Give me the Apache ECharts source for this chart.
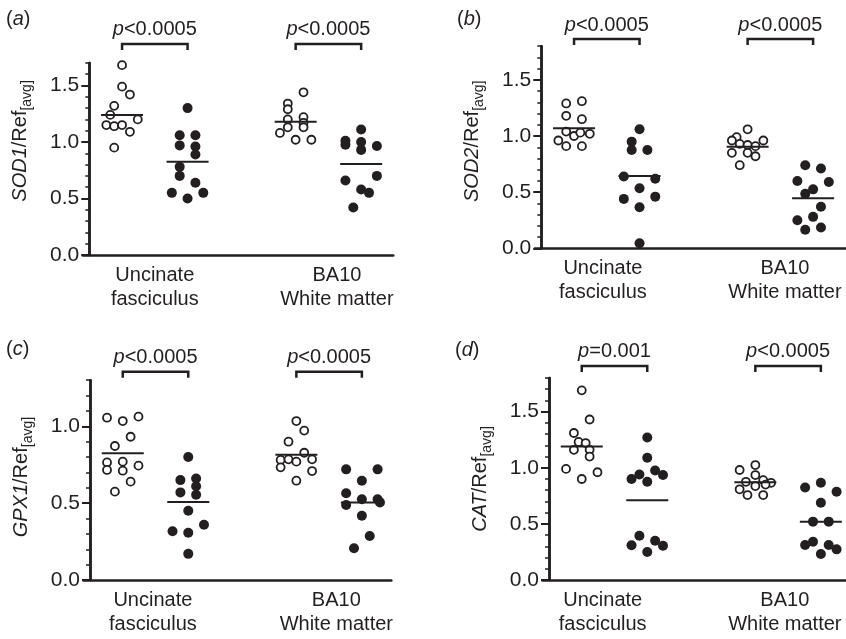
<!DOCTYPE html>
<html>
<head>
<meta charset="utf-8">
<script src="https://cdn.jsdelivr.net/npm/echarts@6/dist/echarts.min.js"></script>
<style>
  html, body { margin: 0; padding: 0; background: #fff; }
  #chart { width: 846px; height: 639px; }
</style>
</head>
<body>
<div id="chart"></div>
<script>
// x positions of the four groups: UF control, UF patient, BA10 control, BA10 patient
var groupX = [0.5, 1.5, 3.15, 4.15];
var jitStep = 0.12;   // horizontal spread of one dot (x units)
var catNames = ['Uncinate\nfasciculus', 'BA10\nWhite matter'];

// (a) SOD1
var sod1UfCtl = [1.68, 1.49, 1.42, 1.32, 1.24, 1.20, 1.15, 1.14, 1.15, 1.09, 0.95];
var sod1UfCtlJit = [0, 0, 1, -1, -1.5, 2, -2, -1, 0, 1, -1];
var sod1UfPat = [1.30, 1.06, 1.06, 0.97, 0.96, 0.89, 0.78, 0.70, 0.64, 0.55, 0.50, 0.55];
var sod1UfPatJit = [0, -1, 1, -1, 1, 1, -1, -1, 1, -2, 0, 2];
var sod1BaCtl = [1.44, 1.34, 1.29, 1.20, 1.22, 1.17, 1.13, 1.13, 1.08, 1.02, 1.02];
var sod1BaCtlJit = [1, -1, -1, -1, 1, 1, -1, 1, -2, 0, 2];
var sod1BaPat = [1.11, 1.01, 0.975, 1.00, 0.93, 0.965, 0.66, 0.70, 0.58, 0.55, 0.42];
var sod1BaPatJit = [0, -2, -2, 0, 0, 2, -2, 2, 0, 1, -1];
var sod1Means = [1.24, 0.825, 1.18, 0.805];
var sod1P = ['<0.0005', '<0.0005'];

// (b) SOD2
var sod2UfCtl = [1.29, 1.31, 1.18, 1.15, 0.96, 1.04, 1.00, 1.03, 1.02, 0.91, 0.91];
var sod2UfCtlJit = [-1, 1, -1, 1, -2, -1, 0, 0.8, 2, -1, 1];
var sod2UfPat = [1.06, 0.95, 0.875, 0.875, 0.64, 0.62, 0.535, 0.44, 0.46, 0.365, 0.045];
var sod2UfPatJit = [0, -1, -1, 1, -2, 2, 0, -2, 2, 0, 0];
var sod2BaCtl = [1.06, 0.99, 0.96, 0.96, 0.93, 0.92, 0.91, 0.85, 0.85, 0.82, 0.74];
var sod2BaCtlJit = [0, -1.4, -2, 2, -1, 0, 1, -2, 0, 1, -1];
var sod2BaPat = [0.74, 0.71, 0.60, 0.59, 0.525, 0.485, 0.37, 0.28, 0.25, 0.165, 0.185];
var sod2BaPatJit = [-1, 1, -2, 2, 0, -1, 1, 0, -2, -1, 1];
var sod2Means = [1.07, 0.645, 0.905, 0.445];
var sod2P = ['<0.0005', '<0.0005'];

// (c) GPX1
var gpx1UfCtl = [1.056, 1.034, 1.063, 0.932, 0.872, 0.765, 0.77, 0.744, 0.716, 0.711, 0.64, 0.575];
var gpx1UfCtlJit = [-2, 0, 2, 1, -1, -2, 0, 2, -2, 0, 1, -1];
var gpx1UfPat = [0.80, 0.65, 0.66, 0.61, 0.57, 0.555, 0.45, 0.36, 0.317, 0.307, 0.17];
var gpx1UfPatJit = [0, -1, 1, 1, -1, 1, 0, 2, -2, 0, 0];
var gpx1BaCtl = [1.034, 0.972, 0.90, 0.828, 0.781, 0.785, 0.77, 0.785, 0.733, 0.709, 0.646];
var gpx1BaCtlJit = [0, 1, -1, 1, -2, -1, 0, 2, -2, 2, 0];
var gpx1BaPat = [0.72, 0.72, 0.646, 0.564, 0.488, 0.525, 0.525, 0.505, 0.418, 0.286, 0.206];
var gpx1BaPatJit = [-2, 2, 0, -2, -2, 0, 2, 2.3, 0, 1, -1];
var gpx1Means = [0.824, 0.507, 0.815, 0.505];
var gpx1P = ['<0.0005', '<0.0005'];

// (d) CAT
var catUfCtl = [1.69, 1.43, 1.31, 1.23, 1.16, 1.22, 1.16, 1.10, 0.99, 0.96, 0.90];
var catUfCtlJit = [0, 1, -1, -0.4, -1, 0.5, 1, 1, -2, 2, 0];
var catUfPat = [1.27, 1.09, 0.90, 0.94, 0.875, 0.975, 0.935, 0.395, 0.31, 0.35, 0.305, 0.25];
var catUfPatJit = [0, 0, -2, -1, 0, 1, 2, -1, -2, 1, 2, 0];
var catBaCtl = [1.024, 0.98, 0.935, 0.89, 0.866, 0.875, 0.808, 0.837, 0.757, 0.757, 0.85];
var catBaCtlJit = [0, -2, 0, 1, 2, -1.2, -2, 0, -1, 1, 1.3];
var catBaPat = [0.825, 0.866, 0.786, 0.688, 0.52, 0.52, 0.312, 0.341, 0.312, 0.273, 0.232];
var catBaPatJit = [-2, 0, 2, 0, -1, 1, -2, -1, 1, 2, 0];
var catMeans = [1.19, 0.71, 0.87, 0.52];
var catP = ['=0.001', '<0.0005'];

var ink = '#231f20';
var font = '"Liberation Sans", Arial, sans-serif';
var U = 65.5; // px per x unit

var panels = [
  { tag: 'a', gene: 'SOD1', means: sod1Means, pText: sod1P, brackY: 1.868, yMax: 1.7, xMax: 4.64,
    catX: [1.0, 3.78], nameShift: 18, tagPos: [6, 9],
    box: { left: 82.75, top: 62.9, width: 310.5, height: 192.1 },
    groups: [[sod1UfCtl, sod1UfCtlJit], [sod1UfPat, sod1UfPatJit], [sod1BaCtl, sod1BaCtlJit], [sod1BaPat, sod1BaPatJit]] },
  { tag: 'b', gene: 'SOD2', means: sod2Means, pText: sod2P, brackY: 1.864, yMax: 1.8, xMax: 4.65,
    catX: [0.94, 3.72], nameShift: 6, tagPos: [457, 9],
    box: { left: 534.75, top: 46.2, width: 311.1, height: 202.1 },
    groups: [[sod2UfCtl, sod2UfCtlJit], [sod2UfPat, sod2UfPatJit], [sod2BaCtl, sod2BaCtlJit], [sod2BaPat, sod2BaPatJit]] },
  { tag: 'c', gene: 'GPX1', means: gpx1Means, pText: gpx1P, brackY: 1.355, yMax: 1.3, xMax: 4.6,
    catX: [0.96, 3.76], nameShift: 3, tagPos: [6, 339],
    box: { left: 83.45, top: 380.2, width: 307.9, height: 199.8 },
    groups: [[gpx1UfCtl, gpx1UfCtlJit], [gpx1UfPat, gpx1UfPatJit], [gpx1BaCtl, gpx1BaCtlJit], [gpx1BaPat, gpx1BaPatJit]] },
  { tag: 'd', gene: 'CAT', means: catMeans, pText: catP, brackY: 1.908, yMax: 1.8, xMax: 4.53,
    catX: [0.82, 3.6], nameShift: 0, tagPos: [455, 340],
    box: { left: 542.45, top: 378, width: 303.3, height: 202 },
    groups: [[catUfCtl, catUfCtlJit], [catUfPat, catUfPatJit], [catBaCtl, catBaCtlJit], [catBaPat, catBaPatJit]] }
];

var myChart = echarts.init(document.getElementById('chart'));
var option = {
  animation: false,
  textStyle: { fontFamily: font, color: ink },
  title: [], grid: [], xAxis: [], yAxis: [], series: []
};

panels.forEach(function (p, k) {
  option.title.push({
    text: '({i|' + p.tag + '})', left: p.tagPos[0], top: p.tagPos[1], padding: 0,
    textStyle: { fontSize: 20, fontWeight: 'normal', color: ink, fontFamily: font,
      rich: { i: { fontStyle: 'italic', fontSize: 20, color: ink, fontFamily: font } } }
  });
  option.grid.push({
    left: p.box.left, top: p.box.top, width: p.box.width, height: p.box.height,
    containLabel: false, outerBoundsMode: 'none'
  });
  option.xAxis.push({
    type: 'value', gridIndex: k, min: -0.1, max: p.xMax,
    splitLine: { show: false }, axisTick: { show: false },
    axisLine: { onZero: false, lineStyle: { color: ink, width: 2.5 } },
    axisLabel: {
      customValues: p.catX, fontSize: 20, lineHeight: 24, color: ink, margin: 8, fontFamily: font,
      formatter: function (v) { return v < 2 ? catNames[0] : catNames[1]; }
    }
  });
  var majors = [0, 0.5, 1, 1.5].filter(function (v) { return v <= p.yMax; });
  // minor ticks every 0.1
  option.yAxis.push({
    type: 'value', gridIndex: k, position: 'left', min: 0, max: p.yMax, interval: 0.1, offset: -0.1 * U,
    splitLine: { show: false },
    axisLine: { show: true, onZero: false, lineStyle: { color: ink, width: 2.5 } },
    axisTick: { show: true, length: 4, lineStyle: { color: ink, width: 1.5 } },
    axisLabel: { show: false }
  });
  // major ticks, labels and name
  option.yAxis.push({
    type: 'value', gridIndex: k, position: 'left', min: 0, max: p.yMax, interval: 0.5, offset: -0.1 * U,
    splitLine: { show: false },
    axisLine: { show: true, onZero: false, lineStyle: { color: ink, width: 2.5 } },
    axisTick: { show: true, length: 8, customValues: majors, lineStyle: { color: ink, width: 2 } },
    axisLabel: {
      customValues: majors, fontSize: 21, color: ink, margin: 10, fontFamily: font,
      formatter: function (v) { return v.toFixed(1); }
    },
    name: '{i|' + p.gene + '}{n|/Ref}{s|[avg]}', nameLocation: 'middle', nameGap: 55,
    nameTextStyle: {
      fontSize: 20, color: ink, fontFamily: font, padding: [0, 0, 0, 2 * p.nameShift],
      rich: {
        i: { fontStyle: 'italic', fontSize: 20, lineHeight: 28, color: ink, fontFamily: font },
        n: { fontSize: 20, lineHeight: 28, color: ink, fontFamily: font },
        s: { fontSize: 14, lineHeight: 28, verticalAlign: 'bottom', color: ink, fontFamily: font }
      }
    }
  });

  p.groups.forEach(function (grp, g) {
    var open = g % 2 === 0;
    option.series.push({
      type: 'scatter', xAxisIndex: k, yAxisIndex: 2 * k, symbol: 'circle', silent: true, z: 3,
      symbolSize: open ? 8 : 10,
      itemStyle: open ? { color: '#fff', borderColor: ink, borderWidth: 1.8, opacity: 1 } : { color: ink, opacity: 1 },
      data: grp[0].map(function (v, i) { return [groupX[g] + grp[1][i] * jitStep, v]; })
    });
  });

  // mean lines
  option.series.push({
    type: 'custom', xAxisIndex: k, yAxisIndex: 2 * k, silent: true, z: 5,
    data: p.means.map(function (m, g) { return [groupX[g], m]; }),
    renderItem: function (params, api) {
      var c = api.coord([api.value(0), api.value(1)]);
      return { type: 'line', shape: { x1: c[0] - 21, y1: c[1], x2: c[0] + 21, y2: c[1] },
        style: { stroke: ink, lineWidth: 2 } };
    }
  });

  // significance brackets
  option.series.push({
    type: 'custom', xAxisIndex: k, yAxisIndex: 2 * k, silent: true, z: 5, clip: false,
    data: [[groupX[0], groupX[1], p.brackY], [groupX[2], groupX[3], p.brackY]],
    renderItem: function (params, api) {
      var a = api.coord([api.value(0), api.value(2)]);
      var b = api.coord([api.value(1), api.value(2)]);
      return { type: 'group', children: [
        { type: 'polyline', shape: { points: [[a[0], a[1] + 6], [a[0], a[1]], [b[0], b[1]], [b[0], b[1] + 6]] },
          style: { stroke: ink, lineWidth: 2.5, fill: null } },
        { type: 'text', x: (a[0] + b[0]) / 2, y: a[1] - 4,
          style: { text: '{i|p}' + p.pText[params.dataIndex], align: 'center', verticalAlign: 'bottom',
            fontSize: 20, fontFamily: font, fill: ink,
            rich: { i: { fontStyle: 'italic', fontSize: 20, fontFamily: font, fill: ink } } } }
      ] };
    }
  });
});

myChart.setOption(option);
</script>
</body>
</html>
